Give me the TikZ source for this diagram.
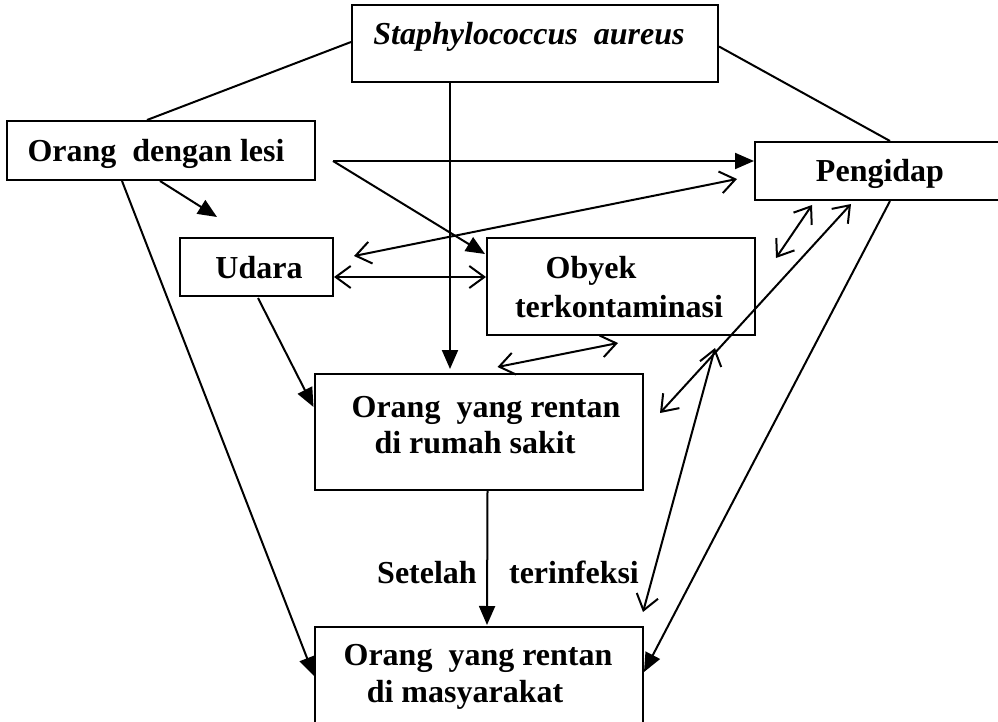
\documentclass[tikz,border=0pt]{standalone}
\usepackage{fontspec}
\setmainfont{Liberation Serif}
\usetikzlibrary{arrows.meta,calc}
\begin{document}
\begin{tikzpicture}[x=1pt,y=-1pt,
 box/.style={draw, line width=2pt, inner sep=0pt},
 lbl/.style={font=\fontsize{32}{38}\selectfont\bfseries, inner sep=0pt, text height=21pt, text depth=7pt},
 con/.style={line width=2pt},
 fa/.style={con, -{Triangle[length=19pt,width=16pt]}},
 oa/.style={con, {Straight Barb[length=15pt,width=22pt]}-{Straight Barb[length=15pt,width=22pt]}},
]
\useasboundingbox (0,0) rectangle (998,722);
% boxes
\node[box, minimum width=366pt, minimum height=77pt] (staph) at (535,43.5) {};
\node[box, minimum width=308pt, minimum height=59pt] (lesi) at (161,150.5) {};
\node[box, minimum width=248pt, minimum height=58pt] (peng) at (879,171) {};
\node[box, minimum width=153pt, minimum height=58pt] (udara) at (256.5,267) {};
\node[box, minimum width=268pt, minimum height=97pt] (obyek) at (621,286.5) {};
\node[box, minimum width=328pt, minimum height=116pt] (rs) at (478.5,432) {};
\node[box, minimum width=328pt, minimum height=116pt] (mas) at (479,685) {};
% texts
\node[lbl] (tstaph) at (529,38) {\itshape Staphylococcus\ \ aureus};
\node[lbl] (tlesi) at (156,155) {Orang\ \ dengan lesi};
\node[lbl] (tpeng) at (880,175) {Pengidap};
\node[lbl] (tudara) at (259,271) {Udara};
\node[lbl] (tobyek1) at (591,271) {Obyek};
\node[lbl] (tobyek2) at (619,310) {terkontaminasi};
\node[lbl] (trs1) at (486,410) {Orang\ \ yang rentan};
\node[lbl] (trs2) at (475,446) {di rumah sakit};
\node[lbl] (tmas1) at (478,658) {Orang\ \ yang rentan};
\node[lbl] (tmas2) at (465,695) {di masyarakat};
\node[lbl] (setelah) at (427,576) {Setelah};
\node[lbl] (terinf) at (574,576) {terinfeksi};
% free coordinates
\coordinate (lo) at (333,161);
\coordinate (la) at (217,217);
\coordinate (p1) at (776,258);
\coordinate (p2) at (660,413);
\coordinate (c1) at (715,348);
\coordinate (c2) at (643,612);
% connectors
\draw[con] ($(staph.west)+(0,-1.5)$) -- ($(lesi.north)+(-14,0)$);
\draw[con] ($(staph.east)+(0,3)$) -- ($(peng.north)+(11,0)$);
\draw[fa] ($(staph.south)+(-85,0)$) -- ($(rs.north)+(-28.5,-4)$);
\draw[fa] (lo) -- (lo -| peng.west);
\draw[fa] (lo) -- ($(obyek.north west)+(-1,17)$);
\draw[fa] ($(lesi.south)+(-1,0)$) -- (la);
\draw[fa] ($(lesi.south)+(-39,0)$) -- ($(mas.west)+(0,-9)$);
\draw[oa] ($(udara.north east)+(20,19)$) -- ($(peng.north west)+(-17,38)$);
\draw[oa] ($(udara.east)+(0,10)$) -- ($(obyek.west)+(0,-9.5)$);
\draw[fa] ($(udara.south)+(1.5,1)$) -- ($(rs.west)+(0,-25)$);
\draw[oa] ($(obyek.south)+(-3,7)$) -- ($(rs.north)+(19,-6)$);
\draw[oa] ($(peng.south west)+(58,4)$) -- (p1);
\draw[oa] ($(peng.south west)+(97,3)$) -- (p2);
\draw[oa] (c1) -- (c2);
\draw[fa] ($(peng.south)+(11,0)$) -- ($(mas.east)+(0,-13)$);
\draw[fa] ($(rs.south)+(9,0)$) -- ($(mas.north)+(8,-1)$);
\end{tikzpicture}
\end{document}
